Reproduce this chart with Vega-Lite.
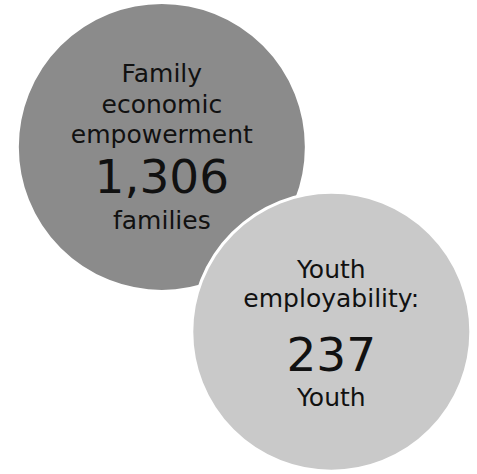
{
  "$schema": "https://vega.github.io/schema/vega-lite/v6.json",
  "width": 477,
  "height": 474,
  "autosize": {"type": "fit", "contains": "padding"},
  "padding": 0,
  "background": "white",
  "config": {"view": {"stroke": null}},
  "datasets": {
    "circles": [
      {"program": "Family economic empowerment", "value": 1306, "cx": 34.0, "cy": 31.0},
      {"program": "Youth employability", "value": 237, "cx": 69.6, "cy": 71.1}
    ],
    "labels": [
      {"text": "Family", "role": "label", "tx": 34.0, "ty": 16.9},
      {"text": "economic", "role": "label", "tx": 34.0, "ty": 23.6},
      {"text": "empowerment", "role": "label", "tx": 34.0, "ty": 30.2},
      {"text": "1,306", "role": "number", "tx": 34.0, "ty": 41.1},
      {"text": "families", "role": "label", "tx": 34.0, "ty": 48.9},
      {"text": "Youth", "role": "label", "tx": 69.6, "ty": 59.5},
      {"text": "employability:", "role": "label", "tx": 69.6, "ty": 65.8},
      {"text": "237", "role": "number", "tx": 69.6, "ty": 79.7},
      {"text": "Youth", "role": "label", "tx": 69.6, "ty": 87.1}
    ]
  },
  "layer": [
    {
      "data": {"name": "circles"},
      "mark": {"type": "point", "shape": "circle", "filled": true, "opacity": 1, "stroke": "white", "strokeWidth": 3},
      "encoding": {
        "x": {"field": "cx", "type": "quantitative", "scale": {"domain": [0, 100]}, "axis": null},
        "y": {"field": "cy", "type": "quantitative", "scale": {"domain": [100, 0]}, "axis": null},
        "size": {"field": "value", "type": "quantitative", "scale": {"domain": [237, 1306], "range": [77841, 83521]}, "legend": null},
        "fill": {"field": "program", "type": "nominal", "scale": {"domain": ["Family economic empowerment", "Youth employability"], "range": ["#8b8b8b", "#c9c9c9"]}, "legend": null}
      }
    },
    {
      "data": {"name": "labels"},
      "mark": {"type": "text", "font": "DejaVu Sans", "align": "center", "baseline": "alphabetic", "color": "#111111"},
      "encoding": {
        "x": {"field": "tx", "type": "quantitative", "scale": {"domain": [0, 100]}, "axis": null},
        "y": {"field": "ty", "type": "quantitative", "scale": {"domain": [100, 0]}, "axis": null},
        "text": {"field": "text"},
        "size": {"field": "role", "type": "nominal", "scale": {"domain": ["label", "number"], "range": [25, 47]}, "legend": null}
      }
    }
  ]
}
